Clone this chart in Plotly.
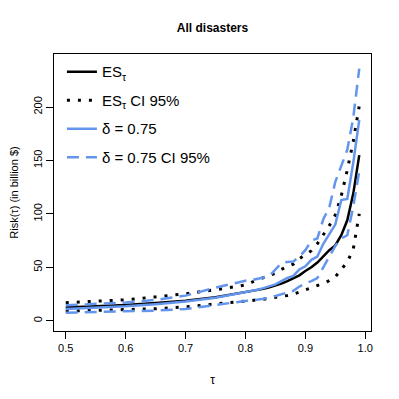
import plotly.graph_objects as go

# ------------------------
# Data
# ------------------------
tau = [0.50, 0.55, 0.60, 0.65, 0.70, 0.75, 0.80,
       0.81, 0.82, 0.83, 0.84, 0.85, 0.86, 0.87, 0.88, 0.89, 0.90,
       0.91, 0.92, 0.93, 0.94, 0.95, 0.96, 0.97, 0.98, 0.99]

es = [12.5, 13.5, 14.8, 16.5, 18.8, 22.0, 26.5,
      27.5, 28.6, 29.8, 31.2, 32.8, 34.8, 37.0, 39.5, 42.5, 46.5,
      50.0, 54.5, 60.0, 66.0, 70.5, 80.0, 94.0, 119.0, 155.0]

es_hi = [16.9, 18.0, 19.6, 22.3, 25.2, 29.0, 33.5,
         36.0, 38.0, 40.0, 42.0, 44.5, 48.0, 50.5, 53.0, 58.0, 62.0,
         65.5, 72.0, 80.0, 89.0, 99.0, 117.0, 141.0, 168.0, 201.0]

es_lo = [9.0, 9.8, 10.5, 11.2, 13.0, 15.5, 18.0,
         18.7, 19.5, 20.2, 20.9, 21.7, 22.5, 23.6, 24.8, 26.8, 28.8,
         30.5, 32.5, 35.0, 37.5, 41.0, 48.0, 55.0, 67.0, 100.0]

d75 = [11.0, 12.0, 13.5, 15.5, 18.0, 21.5, 26.5,
       27.8, 29.0, 30.5, 32.0, 34.0, 37.0, 40.0, 42.0, 48.0, 51.0,
       57.0, 60.0, 72.0, 81.0, 90.0, 113.0, 114.0, 148.0, 188.0]

d75_hi = [14.5, 15.5, 17.0, 19.5, 23.5, 31.0, 37.5,
          38.0, 39.0, 40.5, 42.0, 48.0, 54.0, 55.0, 55.5, 60.0, 66.0,
          75.0, 77.0, 95.0, 106.0, 130.0, 145.0, 160.0, 190.0, 236.0]

d75_lo = [7.5, 8.0, 8.5, 9.5, 11.0, 15.0, 18.5,
          19.0, 19.5, 20.5, 21.5, 23.0, 24.5, 26.0, 28.0, 32.0, 35.0,
          37.0, 40.0, 50.0, 60.0, 70.0, 77.0, 80.0, 107.0, 140.0]

y_ticks = [0, 50, 100, 150, 200]
x_ticks = [0.5, 0.6, 0.7, 0.8, 0.9, 1.0]

BLUE = "#6495ED"
FONT = "Liberation Sans, Arial, Helvetica, sans-serif"

# the page body has an 8px margin, so the figure is 8px smaller
W = H = 391

fig = go.Figure()

# ES and its CI
fig.add_trace(go.Scatter(x=tau, y=es, mode="lines", name="ES<sub>τ</sub>",
                         legendgroup="a", line=dict(color="black", width=2.5)))
fig.add_trace(go.Scatter(x=tau, y=es_hi, mode="lines", name="ES<sub>τ</sub> CI 95%",
                         legendgroup="b",
                         line=dict(color="black", width=3, dash="3px,8px")))
fig.add_trace(go.Scatter(x=tau, y=es_lo, mode="lines", showlegend=False,
                         legendgroup="b",
                         line=dict(color="black", width=3, dash="3px,8px")))

# delta = 0.75 and its CI
fig.add_trace(go.Scatter(x=tau, y=d75, mode="lines", name="δ = 0.75",
                         legendgroup="c", line=dict(color=BLUE, width=2.5)))
fig.add_trace(go.Scatter(x=tau, y=d75_hi, mode="lines", name="δ = 0.75 CI 95%",
                         legendgroup="d",
                         line=dict(color=BLUE, width=2.5, dash="12px,7px")))
fig.add_trace(go.Scatter(x=tau, y=d75_lo, mode="lines", showlegend=False,
                         legendgroup="d",
                         line=dict(color=BLUE, width=2.5, dash="12px,7px")))

axis_common = dict(
    showgrid=False, zeroline=False, automargin=False,
    showline=True, linecolor="black", linewidth=1, mirror=True,
    ticks="outside", ticklen=7, tickcolor="black", tickwidth=1,
    tickfont=dict(size=11, color="black", family=FONT),
)

fig.update_xaxes(range=[0.4804, 1.0096], tickvals=x_ticks,
                 ticktext=["0.5", "0.6", "0.7", "0.8", "0.9", "1.0"],
                 title=dict(text="τ", font=dict(size=12, color="black", family=FONT),
                            standoff=22),
                 **axis_common)
fig.update_yaxes(range=[-9.6, 249.6], tickvals=y_ticks, tickangle=-90,
                 title=dict(text="Risk(τ) (in billion $)",
                            font=dict(size=11, color="black", family=FONT),
                            standoff=12),
                 **axis_common)

fig.update_layout(
    width=W, height=H,
    margin=dict(l=46, r=28, t=46, b=68, autoexpand=False),
    paper_bgcolor="white", plot_bgcolor="white",
    font=dict(family=FONT, color="black"),
    title=dict(text="<b>All disasters</b>", x=0.5, xref="paper",
               y=1 - 20 / H, yref="container", yanchor="middle",
               font=dict(size=12, color="black", family=FONT)),
    legend=dict(x=0.025, y=0.995, xanchor="left", yanchor="top",
                bgcolor="rgba(0,0,0,0)", borderwidth=0,
                font=dict(size=15, color="black", family=FONT),
                traceorder="grouped", tracegroupgap=6, itemwidth=30),
)

fig.write_html("out.html")
